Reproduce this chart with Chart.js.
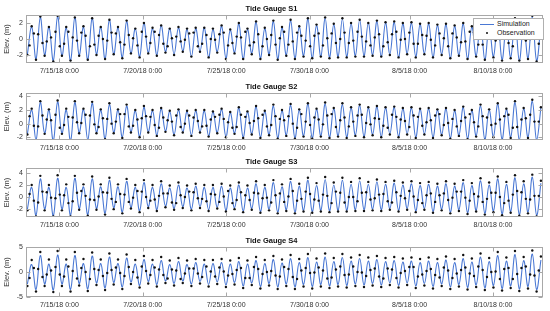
<!DOCTYPE html>
<html>
<head>
<meta charset="utf-8">
<script src="https://cdn.jsdelivr.net/npm/chart.js@4.4.1/dist/chart.umd.min.js"></script>
<style>
  html, body { margin: 0; padding: 0; background: #fff; }
  body { width: 550px; height: 311px; position: relative; overflow: hidden; }
  canvas { position: absolute; left: 0; }
  #legend { position: absolute; left: 473px; top: 18px; width: 69px; height: 20px; background: #fff;
            border: 1px solid #b0b0b0; font: 7px 'Liberation Sans', Arial, sans-serif; color: #222; z-index: 5; }
  #legend .ln { position: absolute; left: 6px; top: 5px; width: 14px; height: 1px; background: #4a78d4; }
  #legend .dt { position: absolute; left: 12px; top: 13px; width: 2px; height: 2px; border-radius: 1px; background: #111; }
  #legend .t1 { position: absolute; left: 23px; top: 1px; }
  #legend .t2 { position: absolute; left: 23px; top: 10px; }
</style>
</head>
<body>
<canvas id="c1" width="550" height="73" style="top:4px"></canvas>
<canvas id="c2" width="550" height="72" style="top:82px"></canvas>
<canvas id="c3" width="550" height="74" style="top:157px"></canvas>
<canvas id="c4" width="550" height="75" style="top:236px"></canvas>
<div id="legend"><div class="ln"></div><div class="dt"></div><span class="t1">Simulation</span><span class="t2">Observation</span></div>
<script>
// x axis: hours since 7/13/18 0:00
const xTickHours = [48, 168, 288, 408, 552, 672];
const xTickLabels = ['7/15/18 0:00', '7/20/18 0:00', '7/25/18 0:00', '7/30/18 0:00', '8/5/18 0:00', '8/10/18 0:00'];

// times of low and high water (hours)
const lowTimes = [2, 14.4, 26.8, 39.3, 51.7, 64.1, 76.5, 88.9, 101.4, 113.8, 126.2, 138.6, 151, 163.5, 175.9,
  188.3, 200.7, 213.1, 225.6, 238, 250.4, 262.8, 275.2, 287.7, 300.1, 312.5, 324.9, 337.3, 349.8, 362.2,
  374.6, 387, 399.4, 411.9, 424.3, 436.7, 449.1, 461.5, 474, 486.4, 498.8, 511.2, 523.6, 536.1, 548.5,
  560.9, 573.3, 585.7, 598.2, 610.6, 623, 635.4, 647.8, 660.3, 672.7, 685.1, 697.5, 709.9, 722.4, 734.8];
const highTimes = [8.2, 20.6, 33, 45.5, 57.9, 70.3, 82.7, 95.2, 107.6, 120, 132.4, 144.8, 157.3, 169.7, 182.1,
  194.5, 206.9, 219.4, 231.8, 244.2, 256.6, 269, 281.5, 293.9, 306.3, 318.7, 331.1, 343.6, 356, 368.4,
  380.8, 393.2, 405.7, 418.1, 430.5, 442.9, 455.3, 467.8, 480.2, 492.6, 505, 517.4, 529.9, 542.3, 554.7,
  567.1, 579.5, 592, 604.4, 616.8, 629.2, 641.6, 654.1, 666.5, 678.9, 691.3, 703.7, 716.2, 728.6, 741];
// observation samples on the rising and falling limbs (hours)
const riseTimes = [5.1, 17.5, 29.9, 42.4, 54.8, 67.2, 79.6, 92, 104.5, 116.9, 129.3, 141.7, 154.1, 166.6, 179,
  191.4, 203.8, 216.2, 228.7, 241.1, 253.5, 265.9, 278.3, 290.8, 303.2, 315.6, 328, 340.4, 352.9, 365.3,
  377.7, 390.1, 402.5, 415, 427.4, 439.8, 452.2, 464.6, 477.1, 489.5, 501.9, 514.3, 526.7, 539.2, 551.6,
  564, 576.4, 588.8, 601.3, 613.7, 626.1, 638.5, 650.9, 663.4, 675.8, 688.2, 700.6, 713, 725.5, 737.9];
const fallTimes = [11.3, 23.7, 36.1, 48.6, 61, 73.4, 85.8, 98.3, 110.7, 123.1, 135.5, 147.9, 160.4, 172.8, 185.2,
  197.6, 210, 222.5, 234.9, 247.3, 259.7, 272.1, 284.6, 297, 309.4, 321.8, 334.2, 346.7, 359.1, 371.5,
  383.9, 396.3, 408.8, 421.2, 433.6, 446, 458.4, 470.9, 483.3, 495.7, 508.1, 520.5, 533, 545.4, 557.8,
  570.2, 582.6, 595.1, 607.5, 619.9, 632.3, 644.7, 657.2, 669.6, 682, 694.4, 706.8, 719.3, 731.7];

// Tide Gauge S1
const s1SimHigh = [1.5, 2.7, 1.5, 2.8, 1.4, 2.7, 1.5, 2.6, 1.5, 2.4, 1.4, 2.2, 1.3, 2.0, 1.3, 1.7, 1.3, 1.4, 1.2, 1.3,
  1.4, 1.2, 1.6, 1.1, 1.9, 1.2, 2.1, 1.3, 2.2, 1.4, 2.3, 1.5, 2.5, 1.7, 2.6, 1.8, 2.5, 1.9, 2.4, 2.0,
  2.2, 2.0, 2.1, 1.9, 2.0, 1.8, 1.9, 1.7, 1.8, 1.6, 1.9, 1.5, 2.1, 1.5, 2.3, 1.6, 2.5, 1.7, 2.7, 1.8];
const s1SimLow = [-1.9, -2.5, -2.0, -2.7, -2.1, -2.7, -2.0, -2.6, -1.9, -2.5, -1.9, -2.3, -1.8, -2.2, -1.7, -2.0, -1.6, -1.9, -1.5, -2.2,
  -1.5, -2.3, -1.6, -2.4, -1.7, -2.5, -1.8, -2.4, -1.9, -2.5, -2.0, -2.4, -2.1, -2.4, -2.2, -2.3, -2.2, -2.2, -2.1, -2.1,
  -2.0, -2.2, -1.9, -2.3, -1.8, -2.2, -1.8, -2.3, -1.9, -2.4, -2.0, -2.5, -2.1, -2.6, -2.2, -2.6, -2.3, -2.7, -2.4, -2.7];
const s1ObsHigh = [1.6, 2.8, 1.5, 2.9, 1.5, 2.7, 1.6, 2.6, 1.5, 2.4, 1.5, 2.3, 1.3, 2.0, 1.4, 1.7, 1.3, 1.5, 1.3, 1.4,
  1.4, 1.3, 1.7, 1.2, 2.0, 1.3, 2.2, 1.4, 2.3, 1.5, 2.4, 1.6, 2.6, 1.8, 2.7, 1.9, 2.6, 2.0, 2.4, 2.0,
  2.3, 2.1, 2.2, 2.0, 2.1, 1.9, 2.0, 1.8, 1.9, 1.7, 2.0, 1.6, 2.2, 1.6, 2.4, 1.7, 2.6, 1.8, 2.9, 1.9];
const s1ObsLow = [-2.0, -2.6, -2.1, -2.8, -2.1, -2.7, -2.1, -2.6, -2.0, -2.5, -1.9, -2.4, -1.8, -2.3, -1.8, -2.1, -1.7, -2.0, -1.6, -2.2,
  -1.6, -2.3, -1.7, -2.5, -1.8, -2.5, -1.9, -2.5, -2.0, -2.6, -2.1, -2.5, -2.2, -2.4, -2.2, -2.4, -2.3, -2.3, -2.2, -2.2,
  -2.1, -2.2, -2.0, -2.3, -1.9, -2.3, -1.9, -2.3, -2.0, -2.4, -2.1, -2.5, -2.2, -2.6, -2.3, -2.7, -2.4, -2.7, -2.5, -2.8];
const s1ObsRise = [-0.8, 0.6, -0.3, 0.9, -0.6, 0.2, 0.8, -0.9, 0.4, -0.2, 0.7, -0.7, 0.1, 0.9, -0.5, 0.5, -0.9, 0.3, -0.1, 0.8,
  -0.6, 0.0, 0.6, -0.8, 0.3, 0.9, -0.4, -0.9, 0.5, 0.1, -0.7, 0.8, -0.2, 0.4, -0.8, 0.7, 0.0, -0.5, 0.9, -0.3,
  0.2, -0.9, 0.6, -0.1, 0.8, -0.6, 0.4, -0.8, 0.1, 0.7, -0.4, 0.9, -0.7, 0.3, -0.2, 0.6, -0.9, 0.5, 0.0, -0.6];
const s1ObsFall = [0.7, -0.5, 0.2, -0.9, 0.9, -0.2, 0.4, -0.7, 0.0, 0.8, -0.4, 0.5, -0.8, 0.3, 0.9, -0.6, 0.1, -0.3, 0.7, -0.9,
  0.5, -0.1, 0.8, -0.5, 0.2, -0.8, 0.6, 0.0, -0.7, 0.9, -0.3, 0.4, -0.9, 0.7, 0.1, -0.5, 0.8, -0.2, 0.3, -0.8,
  0.6, -0.4, 0.9, 0.0, -0.6, 0.5, -0.1, 0.7, -0.9, 0.2, -0.3, 0.8, -0.7, 0.4, 0.0, -0.5, 0.9, -0.2, 0.5];

// Tide Gauge S2
const s2SimHigh = [2.0, 3.1, 2.0, 3.2, 2.0, 3.1, 2.1, 3.0, 2.0, 2.8, 2.0, 2.6, 1.9, 2.4, 1.9, 2.2, 1.8, 2.0, 1.8, 1.9,
  1.9, 1.7, 2.1, 1.6, 2.3, 1.7, 2.5, 1.8, 2.6, 1.9, 2.7, 2.0, 2.9, 2.1, 2.9, 2.2, 2.8, 2.3, 2.7, 2.3,
  2.5, 2.3, 2.4, 2.2, 2.3, 2.1, 2.2, 2.0, 2.2, 1.9, 2.4, 1.9, 2.6, 2.0, 2.9, 2.1, 3.1, 2.2, 3.3, 2.3];
const s2SimLow = [-1.5, -2.4, -1.4, -2.5, -1.4, -2.5, -1.3, -2.4, -1.3, -2.2, -1.3, -2.0, -1.2, -1.9, -1.2, -1.7, -1.1, -1.6, -1.2, -1.7,
  -1.2, -1.8, -1.3, -1.9, -1.4, -2.0, -1.5, -2.0, -1.6, -2.1, -1.7, -2.1, -1.8, -2.1, -1.8, -2.0, -1.8, -2.0, -1.7, -1.9,
  -1.6, -1.9, -1.5, -1.9, -1.5, -2.0, -1.5, -2.0, -1.6, -2.1, -1.7, -2.2, -1.8, -2.3, -1.9, -2.3, -2.0, -2.4, -2.0, -2.4];
const s2ObsHigh = [2.2, 3.3, 2.1, 3.4, 2.2, 3.3, 2.2, 3.2, 2.1, 3.0, 2.1, 2.8, 2.0, 2.6, 2.0, 2.3, 1.9, 2.1, 1.9, 2.0,
  2.0, 1.8, 2.2, 1.7, 2.4, 1.8, 2.6, 1.9, 2.8, 2.0, 2.9, 2.1, 3.0, 2.2, 3.1, 2.3, 3.0, 2.4, 2.8, 2.4,
  2.6, 2.4, 2.5, 2.3, 2.4, 2.2, 2.3, 2.1, 2.3, 2.0, 2.5, 2.0, 2.8, 2.1, 3.0, 2.2, 3.3, 2.3, 3.5, 2.4];
const s2ObsLow = [-1.6, -2.5, -1.5, -2.6, -1.5, -2.6, -1.4, -2.5, -1.4, -2.3, -1.4, -2.1, -1.3, -2.0, -1.3, -1.8, -1.2, -1.7, -1.3, -1.8,
  -1.3, -1.9, -1.4, -2.0, -1.5, -2.1, -1.6, -2.1, -1.7, -2.2, -1.8, -2.2, -1.9, -2.2, -1.9, -2.1, -1.9, -2.1, -1.8, -2.0,
  -1.7, -2.0, -1.6, -2.0, -1.6, -2.1, -1.6, -2.1, -1.7, -2.2, -1.8, -2.3, -1.9, -2.4, -2.0, -2.4, -2.1, -2.5, -2.1, -2.5];
const s2ObsRise = [1.1, -0.4, 0.6, 1.3, -0.2, 0.9, 0.1, 1.2, -0.5, 0.7, 0.3, 1.4, -0.3, 0.8, 1.0, -0.6, 0.5, 1.2, 0.0, 0.9,
  -0.4, 0.6, 1.3, 0.2, -0.5, 1.0, 0.4, 1.3, -0.2, 0.7, 1.1, -0.6, 0.3, 0.9, -0.1, 1.4, 0.5, -0.4, 1.2, 0.1,
  0.8, -0.3, 1.3, 0.6, -0.5, 1.0, 0.2, 1.2, -0.2, 0.7, 0.4, 1.4, -0.4, 0.9, 0.0, 1.1, -0.6, 0.6, 1.3, 0.3];
const s2ObsFall = [-0.3, 1.2, 0.5, -0.6, 1.0, 0.2, 1.3, -0.1, 0.8, 0.0, 1.4, -0.4, 0.6, 1.1, -0.2, 0.9, 0.3, -0.5, 1.2, 0.4,
  -0.3, 1.0, 0.7, -0.6, 1.3, 0.1, 0.8, -0.4, 1.1, 0.5, 0.0, 1.4, -0.2, 0.6, 1.2, -0.5, 0.9, 0.3, 1.3, -0.1,
  0.7, -0.6, 1.0, 0.4, 1.2, -0.3, 0.5, 1.4, 0.1, -0.4, 0.9, 0.2, 1.1, -0.2, 0.6, 1.3, -0.5, 0.8, 0.3];

// Tide Gauge S3
const s3SimHigh = [1.6, 3.0, 1.6, 3.1, 1.6, 3.1, 1.7, 3.0, 1.7, 2.8, 1.7, 2.6, 1.6, 2.4, 1.6, 2.2, 1.5, 2.0, 1.5, 1.8,
  1.6, 1.6, 1.8, 1.5, 2.0, 1.5, 2.2, 1.6, 2.4, 1.7, 2.6, 1.8, 2.8, 1.9, 2.9, 2.0, 2.8, 2.1, 2.7, 2.1,
  2.5, 2.1, 2.3, 2.0, 2.2, 1.9, 2.1, 1.8, 2.2, 1.8, 2.4, 1.9, 2.7, 2.0, 3.0, 2.1, 3.2, 2.2, 3.3, 2.3];
const s3SimLow = [-2.0, -3.0, -2.0, -3.1, -2.0, -3.0, -1.9, -2.9, -1.9, -2.7, -1.8, -2.5, -1.7, -2.3, -1.6, -2.1, -1.5, -1.9, -1.6, -2.0,
  -1.6, -2.1, -1.7, -2.2, -1.8, -2.3, -1.9, -2.4, -2.0, -2.5, -2.1, -2.5, -2.2, -2.4, -2.2, -2.3, -2.2, -2.2, -2.1, -2.1,
  -2.0, -2.1, -1.9, -2.2, -1.9, -2.3, -1.9, -2.4, -2.0, -2.5, -2.1, -2.6, -2.2, -2.7, -2.3, -2.8, -2.4, -2.9, -2.5, -3.0];
const s3ObsHigh = [2.0, 3.5, 2.0, 3.6, 2.1, 3.5, 2.1, 3.4, 2.1, 3.2, 2.1, 3.0, 2.0, 2.8, 2.0, 2.6, 1.9, 2.4, 1.9, 2.2,
  2.0, 2.0, 2.2, 1.9, 2.4, 1.9, 2.6, 2.0, 2.8, 2.1, 3.0, 2.2, 3.2, 2.3, 3.3, 2.4, 3.2, 2.5, 3.1, 2.5,
  2.9, 2.5, 2.7, 2.4, 2.6, 2.3, 2.5, 2.2, 2.6, 2.2, 2.8, 2.3, 3.1, 2.4, 3.4, 2.5, 3.6, 2.6, 3.7, 2.7];
const s3ObsLow = [-2.2, -3.2, -2.2, -3.2, -2.2, -3.2, -2.1, -3.1, -2.1, -2.9, -2.0, -2.7, -1.9, -2.5, -1.8, -2.3, -1.7, -2.1, -1.8, -2.2,
  -1.8, -2.3, -1.9, -2.4, -2.0, -2.5, -2.1, -2.6, -2.2, -2.7, -2.3, -2.7, -2.4, -2.6, -2.4, -2.5, -2.4, -2.4, -2.3, -2.3,
  -2.2, -2.3, -2.1, -2.4, -2.1, -2.5, -2.1, -2.6, -2.2, -2.7, -2.3, -2.8, -2.4, -2.9, -2.5, -3.0, -2.6, -3.1, -2.7, -3.2];
const s3ObsRise = [0.5, -0.9, 0.8, -0.2, 0.3, -0.7, 1.0, -0.4, 0.1, 0.7, -0.8, 0.4, -0.1, 0.9, -0.6, 0.2, 0.6, -1.0, 0.0, 0.8,
  -0.3, 0.5, -0.8, 1.0, -0.5, 0.3, 0.7, -0.2, -0.9, 0.6, 0.1, -0.6, 0.9, -0.4, 0.4, -1.0, 0.7, 0.0, -0.7, 0.8,
  -0.2, 0.5, -0.9, 0.2, 1.0, -0.5, 0.3, -0.8, 0.6, -0.1, 0.9, -0.6, 0.1, -0.3, 0.7, -1.0, 0.4, 0.8, -0.4, 0.2];
const s3ObsFall = [-0.6, 0.9, -0.1, 0.4, -1.0, 0.7, 0.2, -0.5, 0.8, -0.3, 0.5, -0.8, 1.0, 0.0, -0.4, 0.6, -0.9, 0.3, 0.9, -0.2,
  -0.7, 0.4, 0.1, -1.0, 0.8, -0.5, 0.6, -0.1, 0.3, -0.8, 1.0, -0.3, 0.5, -0.6, 0.2, 0.9, -0.9, 0.0, 0.7, -0.4,
  0.4, -0.7, 0.8, -0.2, 0.1, -1.0, 0.6, 0.3, -0.5, 0.9, -0.1, 0.5, -0.8, 0.7, 0.0, -0.6, 1.0, -0.3, 0.2];

// Tide Gauge S4
const s4SimHigh = [1.5, 3.3, 1.6, 3.4, 1.6, 3.3, 1.7, 3.2, 1.7, 3.0, 1.7, 2.8, 1.6, 2.5, 1.6, 2.3, 1.5, 2.1, 1.5, 1.9,
  1.6, 1.7, 1.9, 1.6, 2.1, 1.6, 2.3, 1.7, 2.5, 1.8, 2.7, 1.9, 2.9, 2.0, 3.0, 2.1, 2.9, 2.2, 2.7, 2.2,
  2.5, 2.1, 2.3, 2.0, 2.2, 1.9, 2.2, 1.9, 2.4, 1.9, 2.7, 2.0, 3.0, 2.1, 3.3, 2.2, 3.5, 2.3, 3.6, 2.4];
const s4SimLow = [-2.4, -3.5, -2.4, -3.6, -2.4, -3.5, -2.3, -3.4, -2.2, -3.2, -2.1, -3.0, -2.0, -2.7, -1.9, -2.5, -1.8, -2.3, -1.8, -2.4,
  -1.9, -2.5, -2.0, -2.6, -2.1, -2.8, -2.2, -2.9, -2.3, -3.0, -2.4, -3.0, -2.5, -2.9, -2.5, -2.8, -2.5, -2.7, -2.4, -2.6,
  -2.3, -2.6, -2.2, -2.7, -2.2, -2.8, -2.3, -2.9, -2.4, -3.0, -2.5, -3.1, -2.6, -3.2, -2.7, -3.3, -2.8, -3.4, -2.9, -3.5];
const s4ObsHigh = [2.4, 4.0, 2.5, 4.2, 2.5, 4.0, 2.6, 3.9, 2.5, 3.7, 2.5, 3.5, 2.4, 3.2, 2.4, 3.0, 2.3, 2.8, 2.3, 2.6,
  2.4, 2.4, 2.6, 2.3, 2.8, 2.3, 3.0, 2.4, 3.2, 2.5, 3.4, 2.6, 3.6, 2.7, 3.7, 2.8, 3.6, 2.9, 3.4, 2.9,
  3.2, 2.8, 3.0, 2.7, 2.9, 2.6, 2.9, 2.6, 3.1, 2.6, 3.4, 2.7, 3.7, 2.8, 4.0, 2.9, 4.2, 3.0, 4.3, 3.1];
const s4ObsLow = [-2.8, -3.9, -2.8, -4.0, -2.8, -3.9, -2.7, -3.8, -2.6, -3.6, -2.5, -3.4, -2.4, -3.1, -2.3, -2.9, -2.2, -2.7, -2.2, -2.8,
  -2.3, -2.9, -2.4, -3.0, -2.5, -3.2, -2.6, -3.3, -2.7, -3.4, -2.8, -3.4, -2.9, -3.3, -2.9, -3.2, -2.9, -3.1, -2.8, -3.0,
  -2.7, -3.0, -2.6, -3.1, -2.6, -3.2, -2.7, -3.3, -2.8, -3.4, -2.9, -3.5, -3.0, -3.6, -3.1, -3.7, -3.2, -3.8, -3.3, -3.9];
const s4ObsRise = [-1.2, 0.6, -0.5, 1.0, -0.9, 0.2, 0.8, -1.4, 0.4, -0.2, 0.9, -0.8, 0.0, 1.1, -0.6, 0.5, -1.3, 0.3, -0.3, 0.7,
  -1.0, 0.1, 0.9, -0.7, 0.4, -1.2, 1.0, -0.4, 0.2, -0.9, 0.6, -1.4, 0.8, -0.1, 0.3, -1.1, 1.1, -0.5, 0.0, -0.8,
  0.7, -1.3, 0.5, -0.2, 1.0, -0.9, 0.2, -0.6, 0.9, -1.2, 0.4, -0.3, 1.1, -1.0, 0.1, 0.6, -1.4, 0.8, -0.5, 0.3];
const s4ObsFall = [0.8, -1.0, 0.3, -0.5, 1.1, -1.3, 0.0, 0.6, -0.8, 0.4, -0.2, 1.0, -1.1, 0.2, 0.9, -0.6, 0.5, -1.4, 0.7, -0.3,
  1.1, -0.9, 0.1, -0.4, 0.8, -1.2, 0.6, 0.0, -0.7, 1.0, -1.0, 0.3, -0.2, 0.9, -1.3, 0.5, -0.6, 1.1, -0.1, 0.4,
  -0.9, 0.7, -1.2, 0.2, 1.0, -0.5, 0.6, -1.1, 0.3, -0.3, 0.9, -0.8, 0.4, 0.0, -1.4, 0.8, -0.4, 1.1, -0.7];

const s1YTicks = [-2, 0, 2];
const s2YTicks = [-2, 0, 2, 4];
const s3YTicks = [-2, 0, 2, 4];
const s4YTicks = [-5, 0, 5];

const FONT = "'Liberation Sans', Arial, sans-serif";
const LINE_COLOR = '#4a78d4';
const AXIS_COLOR = '#a8a8a8';

// interleave lows and highs in time order
function series(lows, highs) {
  const pts = [];
  for (let i = 0; i < lowTimes.length; i++) {
    pts.push({ x: lowTimes[i], y: lows[i] });
    pts.push({ x: highTimes[i], y: highs[i] });
  }
  return pts;
}

// observation samples: extremes plus limb samples
function obsSeries(lows, highs, rise, fall) {
  const pts = series(lows, highs);
  rise.forEach((v, i) => pts.push({ x: riseTimes[i], y: v }));
  fall.forEach((v, i) => pts.push({ x: fallTimes[i], y: v }));
  return pts;
}

// box + inward tick marks, MATLAB style
const boxPlugin = {
  id: 'box',
  afterDraw(chart) {
    const { ctx, chartArea: a, scales } = chart;
    ctx.save();
    ctx.strokeStyle = AXIS_COLOR;
    ctx.lineWidth = 1;
    const l = Math.round(a.left) + 0.5, r = Math.round(a.right) - 0.5;
    const t = Math.round(a.top) + 0.5, b = Math.round(a.bottom) - 0.5;
    ctx.strokeRect(l, t, r - l, b - t);
    ctx.beginPath();
    scales.x.ticks.forEach(tk => {
      const px = Math.round(scales.x.getPixelForValue(tk.value)) + 0.5;
      ctx.moveTo(px, b); ctx.lineTo(px, b - 4);
      ctx.moveTo(px, t); ctx.lineTo(px, t + 4);
    });
    scales.y.ticks.forEach(tk => {
      const py = Math.round(scales.y.getPixelForValue(tk.value)) + 0.5;
      ctx.moveTo(l, py); ctx.lineTo(l + 4, py);
      ctx.moveTo(r, py); ctx.lineTo(r - 4, py);
    });
    ctx.stroke();
    ctx.restore();
  }
};

function makePanel(id, title, sim, obs, yMin, yMax, yTicks) {
  new Chart(document.getElementById(id), {
    type: 'line',
    data: {
      datasets: [
        { label: 'Simulation', data: sim, borderColor: LINE_COLOR, borderWidth: 1.1, pointRadius: 0,
          tension: 0.4, fill: false, order: 2 },
        { label: 'Observation', data: obs, showLine: false, pointRadius: 1.2, pointBorderWidth: 0,
          pointBackgroundColor: '#111', order: 1 }
      ]
    },
    options: {
      responsive: false,
      animation: false,
      events: [],
      layout: { padding: { left: 0, right: 7, top: 0, bottom: 0 } },
      plugins: {
        legend: { display: false },
        tooltip: { enabled: false },
        title: { display: true, text: title, color: '#111',
                 font: { family: FONT, size: 7.5, weight: 'bold', lineHeight: '9px' },
                 padding: { top: 0, bottom: 2 } }
      },
      scales: {
        x: {
          type: 'linear', min: 0, max: 744,
          afterBuildTicks: s => { s.ticks = xTickHours.map(v => ({ value: v })); },
          afterFit: s => { s.height = 14; },
          grid: { display: false, drawTicks: false },
          border: { display: false },
          ticks: { color: '#333', font: { family: FONT, size: 7 }, padding: 4, maxRotation: 0,
                   callback: (v, i) => xTickLabels[i] }
        },
        y: {
          min: yMin, max: yMax,
          afterBuildTicks: s => { s.ticks = yTicks.map(v => ({ value: v })); },
          afterFit: s => { s.width = 26; },
          grid: { display: false, drawTicks: false },
          border: { display: false },
          title: { display: true, text: 'Elev. (m)', color: '#333', font: { family: FONT, size: 7.5 },
                   padding: { top: 2, bottom: 0 } },
          ticks: { color: '#333', font: { family: FONT, size: 7 }, padding: 3 }
        }
      }
    },
    plugins: [boxPlugin]
  });
}

makePanel('c1', 'Tide Gauge S1', series(s1SimLow, s1SimHigh), obsSeries(s1ObsLow, s1ObsHigh, s1ObsRise, s1ObsFall), -3, 3, s1YTicks);
makePanel('c2', 'Tide Gauge S2', series(s2SimLow, s2SimHigh), obsSeries(s2ObsLow, s2ObsHigh, s2ObsRise, s2ObsFall), -2.4, 4.5, s2YTicks);
makePanel('c3', 'Tide Gauge S3', series(s3SimLow, s3SimHigh), obsSeries(s3ObsLow, s3ObsHigh, s3ObsRise, s3ObsFall), -3.3, 4.8, s3YTicks);
makePanel('c4', 'Tide Gauge S4', series(s4SimLow, s4SimHigh), obsSeries(s4ObsLow, s4ObsHigh, s4ObsRise, s4ObsFall), -5, 5, s4YTicks);
</script>
</body>
</html>
